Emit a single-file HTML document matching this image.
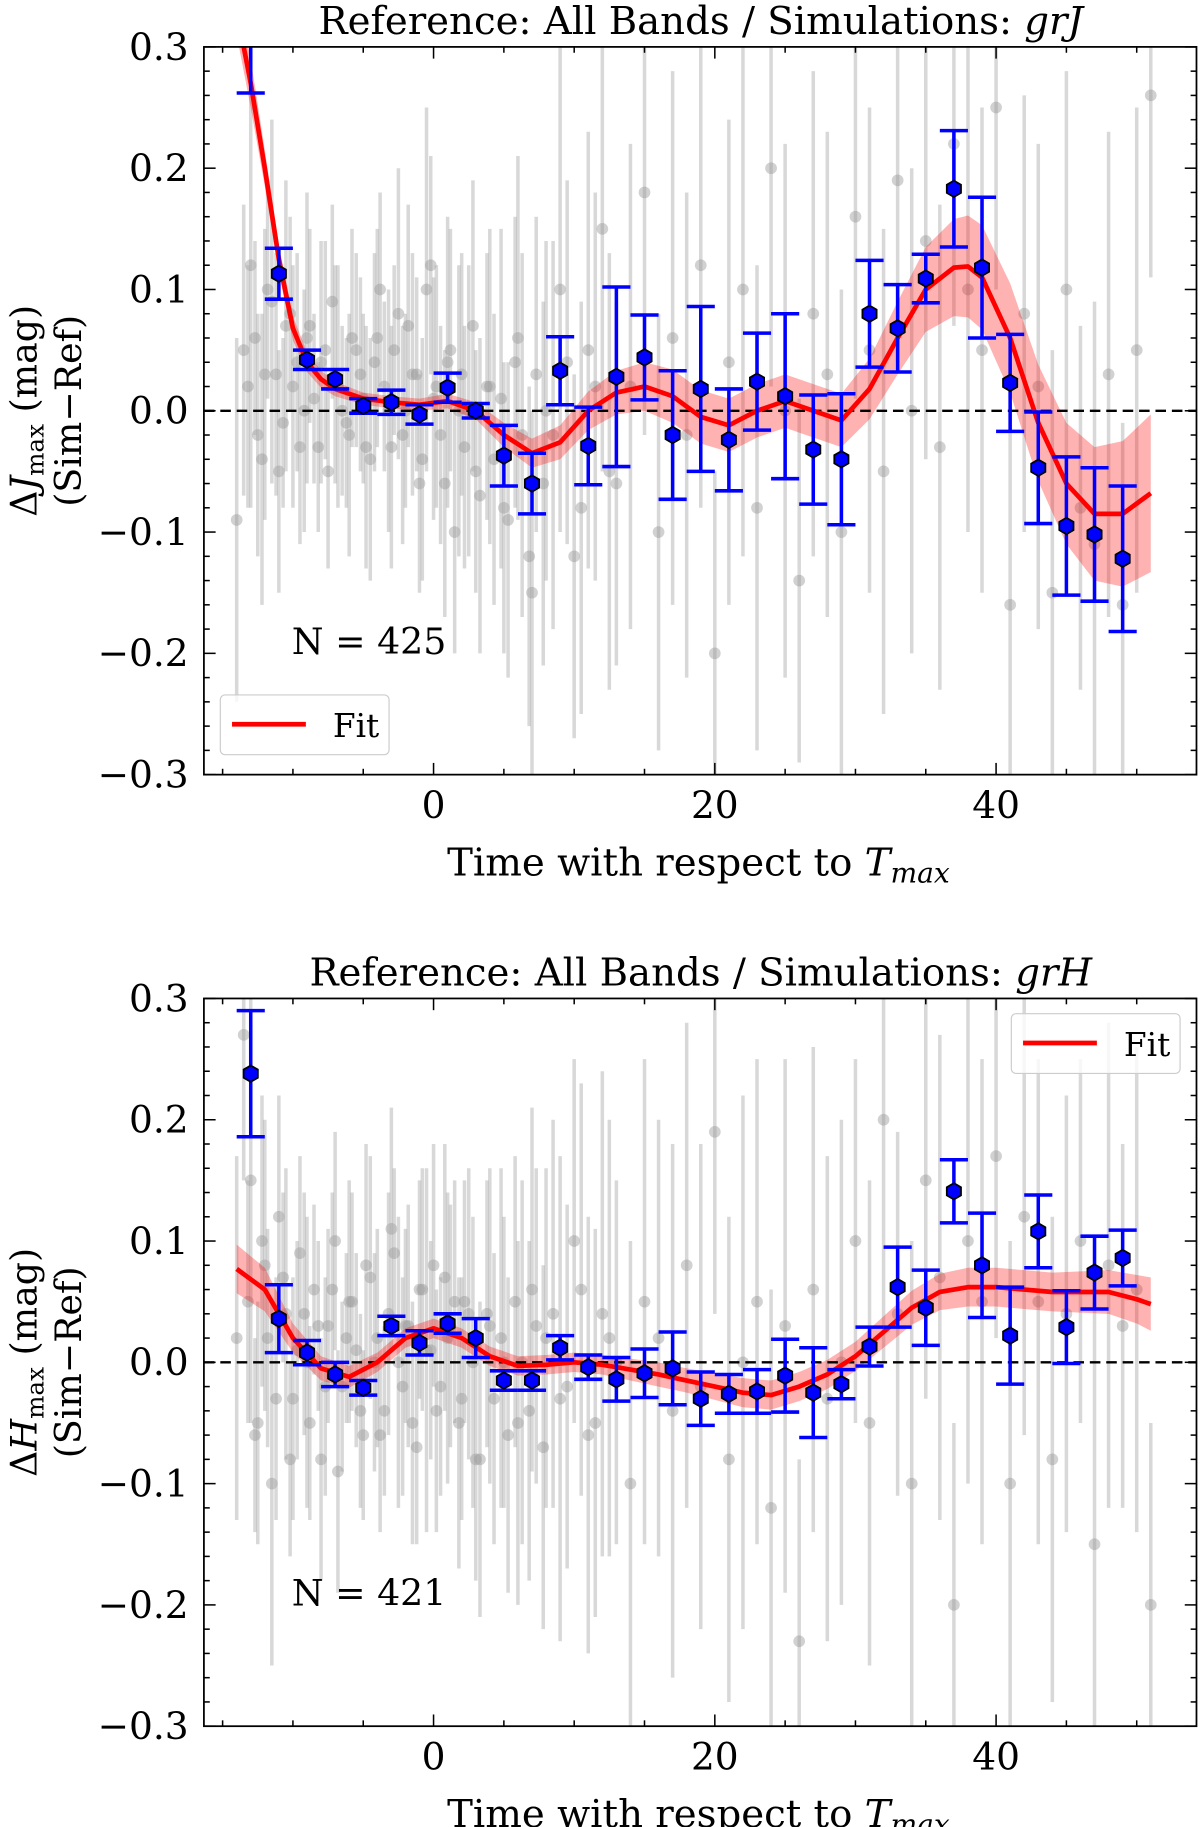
<!DOCTYPE html>
<html><head><meta charset="utf-8"><style>
html,body{margin:0;padding:0;background:#fff;}
svg{display:block;}
text{font-family:"DejaVu Serif","Liberation Serif",serif;fill:#000;}
</style></head><body>
<svg id="chart" width="1200" height="1827" viewBox="0 0 1024 1559" xmlns="http://www.w3.org/2000/svg"></svg>
<script>
// ---- data: top panel (J) ----
const topBinX=[-13,-11,-9,-7,-5,-3,-1,1,3,5,7,9,11,13,15,17,19,21,23,25,27,29,31,33,35,37,39,41,43,45,47,49];
const topBinY=[0.31,0.113,0.042,0.026,0.004,0.007,-0.003,0.019,0.000,-0.037,-0.060,0.033,-0.029,0.028,0.044,-0.020,0.018,-0.024,0.024,0.012,-0.032,-0.040,0.080,0.068,0.109,0.183,0.118,0.023,-0.047,-0.095,-0.102,-0.122];
const topBinErr=[0.048,0.021,0.008,0.008,0.006,0.01,0.008,0.012,0.006,0.025,0.025,0.028,0.032,0.074,0.035,0.053,0.068,0.042,0.04,0.068,0.045,0.054,0.044,0.036,0.02,0.048,0.058,0.04,0.046,0.057,0.055,0.06];
const topFitX=[-14,-13,-12,-11,-10,-9,-8,-7,-5,-3,-1,1,3,5,7,9,11,13,15,17,19,21,23,25,27,29,31,33,35,37,38,39,41,43,45,47,49,51];
const topFitY=[0.33,0.27,0.20,0.125,0.068,0.04,0.026,0.018,0.01,0.007,0.005,0.008,0.0,-0.02,-0.035,-0.026,0.0,0.015,0.02,0.012,-0.005,-0.012,0.0,0.008,0.0,-0.008,0.018,0.06,0.1,0.118,0.119,0.11,0.06,-0.01,-0.06,-0.085,-0.085,-0.068];
const topFitBand=[0.02,0.02,0.015,0.012,0.01,0.008,0.007,0.006,0.005,0.005,0.005,0.006,0.007,0.01,0.012,0.014,0.016,0.018,0.02,0.022,0.022,0.022,0.022,0.022,0.022,0.022,0.025,0.03,0.035,0.04,0.042,0.043,0.045,0.048,0.05,0.055,0.06,0.065];
const topPtsX=[-14,-13.5,-13,-12.5,-12,-11.5,-11,-10.5,-10,-9.5,-9,-8.5,-8,-7.5,-7,-6.5,-6,-5.5,-5,-4.5,-4,-3.5,-3,-2.5,-2,-1.5,-1,-0.5,0,0.5,1,1.5,2,2.5,3,4,5,6,7,8,9,10,11,12,13,14,15,16,17,18,19,20,21,22,23,24,25,26,27,28,29,30,31,32,33,34,35,36,37,38,39,40,41,42,43,44,45,46,47,48,49,50,51];
const topPtsY=[-0.09,0.05,0.12,-0.02,0.03,0.09,-0.05,0.07,0.02,-0.03,0.06,0.01,0.04,-0.05,0.03,0.0,-0.02,0.05,0.01,-0.04,0.06,0.02,-0.03,0.08,0.0,0.03,-0.06,0.1,0.01,-0.02,0.04,-0.1,0.03,0.0,-0.05,0.02,-0.08,0.06,-0.15,0.0,0.1,-0.12,0.05,0.15,-0.06,0.02,0.18,-0.1,0.06,-0.02,0.12,-0.2,0.04,0.1,-0.08,0.2,0.0,-0.14,0.08,0.03,-0.1,0.16,0.05,-0.05,0.19,0.0,0.14,-0.03,0.22,0.1,0.05,0.25,-0.16,0.08,0.02,-0.15,0.1,-0.08,-0.11,0.03,-0.16,0.05,0.26];
const topPtsErr=[0.15,0.12,0.2,0.1,0.12,0.15,0.1,0.12,0.1,0.08,0.12,0.07,0.1,0.08,0.09,0.07,0.1,0.08,0.07,0.1,0.09,0.07,0.1,0.12,0.08,0.1,0.09,0.15,0.1,0.09,0.12,0.1,0.1,0.12,0.1,0.13,0.12,0.15,0.15,0.14,0.2,0.15,0.18,0.2,0.15,0.2,0.2,0.18,0.22,0.2,0.2,0.15,0.2,0.22,0.2,0.18,0.22,0.15,0.2,0.2,0.2,0.15,0.2,0.2,0.15,0.2,0.18,0.2,0.15,0.2,0.2,0.15,0.2,0.18,0.2,0.2,0.18,0.15,0.2,0.2,0.15,0.2,0.15];
const topDenseX=[-13.2,-12.7,-12.2,-11.8,-11.2,-10.7,-10.2,-9.7,-9.2,-8.8,-8.2,-7.7,-7.2,-6.8,-6.2,-5.8,-5.2,-4.8,-4.2,-3.8,-3.2,-2.8,-2.2,-1.8,-1.2,-0.8,-0.2,0.2,0.8,1.2,1.8,2.2,2.8,3.3,3.8,4.3,4.8,5.3,5.8,6.3,6.8,7.3,7.8,8.5,9.5,10.5,11.5,12.5];
const topDenseY=[0.02,0.06,-0.04,0.1,0.03,-0.01,0.08,0.04,0.0,0.07,-0.03,0.05,0.09,0.02,-0.01,0.06,0.03,-0.03,0.04,0.1,0.0,0.05,-0.02,0.07,0.03,-0.04,0.12,0.02,-0.06,0.05,0.0,-0.03,0.07,-0.07,0.02,-0.04,0.01,-0.09,0.04,-0.02,-0.12,0.03,-0.06,-0.02,0.04,-0.08,0.02,-0.05];
const topDenseErr=[0.1,0.08,0.12,0.09,0.1,0.07,0.08,0.09,0.1,0.08,0.07,0.09,0.08,0.1,0.07,0.09,0.08,0.1,0.09,0.08,0.1,0.07,0.09,0.1,0.08,0.1,0.09,0.1,0.11,0.1,0.12,0.1,0.12,0.13,0.11,0.12,0.14,0.13,0.12,0.15,0.14,0.13,0.15,0.16,0.15,0.17,0.16,0.18];
// ---- data: bottom panel (H) ----
const botBinX=topBinX;
const botBinY=[0.238,0.036,0.008,-0.010,-0.021,0.030,0.016,0.032,0.020,-0.015,-0.015,0.012,-0.004,-0.014,-0.009,-0.005,-0.030,-0.026,-0.024,-0.011,-0.025,-0.018,0.013,0.062,0.045,0.141,0.080,0.022,0.108,0.029,0.074,0.086];
const botBinErr=[0.052,0.028,0.01,0.01,0.006,0.008,0.01,0.008,0.016,0.008,0.008,0.01,0.01,0.018,0.02,0.03,0.022,0.016,0.018,0.03,0.037,0.012,0.016,0.033,0.031,0.026,0.043,0.04,0.03,0.03,0.03,0.023];
const botFitX=[-14,-12,-10,-8,-6,-4,-2,0,2,4,6,8,10,12,14,16,18,20,22,24,26,28,30,32,34,36,38,40,42,44,46,48,50,51];
const botFitY=[0.077,0.06,0.02,-0.005,-0.012,0.0,0.02,0.028,0.02,0.005,-0.003,-0.002,0.0,-0.002,-0.006,-0.01,-0.015,-0.02,-0.025,-0.027,-0.02,-0.01,0.005,0.025,0.045,0.058,0.062,0.062,0.06,0.058,0.058,0.058,0.052,0.048];
const botFitBand=[0.02,0.018,0.012,0.01,0.009,0.008,0.008,0.008,0.008,0.008,0.008,0.008,0.008,0.008,0.009,0.01,0.01,0.011,0.012,0.012,0.012,0.012,0.012,0.013,0.014,0.015,0.016,0.016,0.016,0.016,0.017,0.018,0.02,0.022];
const botPtsX=topPtsX;
const botPtsY=[0.02,0.27,0.15,-0.05,0.08,-0.1,0.12,0.04,-0.03,0.09,0.0,0.06,-0.08,0.03,0.1,-0.02,0.05,0.01,-0.06,0.07,0.02,-0.04,0.11,0.0,0.03,-0.05,0.06,0.01,0.08,-0.02,0.02,0.05,-0.03,0.04,-0.08,0.03,0.0,-0.05,0.06,0.02,-0.03,0.1,-0.06,0.04,0.0,-0.1,0.05,0.02,-0.04,0.08,-0.02,0.19,-0.08,0.0,0.05,-0.12,0.03,-0.23,0.06,-0.03,0.0,0.1,-0.05,0.2,0.04,-0.1,0.15,0.07,-0.2,0.1,0.05,0.17,-0.1,0.12,0.05,-0.08,0.04,0.1,-0.15,0.08,0.03,0.06,-0.2];
const botPtsErr=topPtsErr;
const botDenseX=topDenseX;
const botDenseY=[0.05,-0.06,0.1,0.02,-0.03,0.07,-0.08,0.01,0.04,-0.05,0.03,-0.02,0.06,-0.09,0.02,0.05,-0.04,0.08,0.0,-0.06,0.04,0.09,-0.02,0.03,-0.07,0.06,0.01,-0.04,0.07,0.03,-0.05,0.05,0.0,-0.08,0.04,-0.03,0.02,-0.06,0.05,0.0,-0.04,0.03,-0.07,0.04,-0.02,0.06,-0.05,0.02];
const botDenseErr=topDenseErr;
const ticksX=[0,20,40];
const ticksY=[-0.3,-0.2,-0.1,0.0,0.1,0.2,0.3];
const tickLabY=["\u22120.3","\u22120.2","\u22120.1","0.0","0.1","0.2","0.3"];

const NS="http://www.w3.org/2000/svg";
const svg=document.getElementById('chart');
function mk(tag,attrs,parent){const e=document.createElementNS(NS,tag);for(const k in attrs)e.setAttribute(k,attrs[k]);(parent||svg).appendChild(e);return e;}

function panel(cfg){
  const L=174,R=1021,T=cfg.top,B=cfg.top+621;
  const xmin=-16.33,xmax=54.25;
  const sx=v=>L+(v-xmin)/(xmax-xmin)*(R-L);
  const sy=v=>B-(v+0.3)/0.6*(B-T);
  const g=mk('g',{});
  
  
  const cid='clip'+cfg.top;
  const cp=mk('clipPath',{id:cid},g);mk('rect',{x:L,y:T,width:R-L,height:B-T},cp);
  const plot=mk('g',{'clip-path':'url(#'+cid+')'},g);
  const sc=mk('g',{},plot);
  
  
  function pts(xs,ys,es){
    xs.forEach((x,i)=>{
      const y=ys[i],e=es[i];
      mk('line',{x1:sx(x),x2:sx(x),y1:sy(y-e),y2:sy(y+e),stroke:'#a8a8a8','stroke-width':3,'stroke-opacity':0.45},sc);
      mk('circle',{cx:sx(x),cy:sy(y),r:5,fill:'#999','fill-opacity':0.45},sc);
    });
  }
  pts(cfg.px,cfg.py,cfg.pe);
  pts(cfg.dx,cfg.dy,cfg.de);
  let up=cfg.fx.map((x,i)=>sx(x)+','+sy(cfg.fy[i]+cfg.fb[i]));
  let dn=cfg.fx.map((x,i)=>sx(x)+','+sy(cfg.fy[i]-cfg.fb[i])).reverse();
  const band=mk('polygon',{points:up.concat(dn).join(' '),fill:'#ff0000','fill-opacity':0.3},plot);
  
  
  mk('line',{x1:L,x2:R,y1:sy(0),y2:sy(0),stroke:'#000','stroke-width':2,'stroke-dasharray':'9,5'},plot);
  const fit=mk('polyline',{points:cfg.fx.map((x,i)=>sx(x)+','+sy(cfg.fy[i])).join(' '),fill:'none',stroke:'#ff0000','stroke-width':4,'stroke-linejoin':'round'},plot);
  
  
  const bg=mk('g',{},plot);
  
  
  cfg.bx.forEach((x,i)=>{
    const X=sx(x),y=cfg.by[i],e=cfg.be[i],Y=sy(y),y1=sy(y+e),y2=sy(y-e);
    mk('line',{x1:X,x2:X,y1:y1,y2:y2,stroke:'#0000ff','stroke-width':3},bg);
    mk('line',{x1:X-12,x2:X+12,y1:y1,y2:y1,stroke:'#0000ff','stroke-width':3},bg);
    mk('line',{x1:X-12,x2:X+12,y1:y2,y2:y2,stroke:'#0000ff','stroke-width':3},bg);
    const r=7,p=[];for(let k=0;k<6;k++){const a=Math.PI/2+k*Math.PI/3;p.push((X+r*Math.cos(a))+','+(Y+r*Math.sin(a)));}
    mk('polygon',{points:p.join(' '),fill:'#0000ff',stroke:'#000','stroke-width':1.5},bg);
  });
  mk('rect',{x:L,y:T,width:R-L,height:B-T,fill:'none',stroke:'#000','stroke-width':1.5},g);
  for(let v=-15;v<=50;v+=5){const X=sx(v),maj=ticksX.includes(v),len=maj?10:5;
    mk('line',{x1:X,x2:X,y1:B,y2:B-len,stroke:'#000','stroke-width':1.3},g);
    mk('line',{x1:X,x2:X,y1:T,y2:T+len,stroke:'#000','stroke-width':1.3},g);}
  ticksX.forEach(v=>{const t=mk('text',{x:sx(v),y:B+37,'text-anchor':'middle','font-size':32},g);t.textContent=v;});
  for(let k=-15;k<=15;k++){const v=k*0.02,Y=sy(v),maj=k%5===0,len=maj?10:5;
    mk('line',{x1:L,x2:L+len,y1:Y,y2:Y,stroke:'#000','stroke-width':1.3},g);
    mk('line',{x1:R,x2:R-len,y1:Y,y2:Y,stroke:'#000','stroke-width':1.3},g);}
  ticksY.forEach((v,i)=>{const t=mk('text',{x:L-13,y:sy(v)+11,'text-anchor':'end','font-size':32},g);t.textContent=tickLabY[i];});
  const ti=mk('text',{x:598,y:T-11,'text-anchor':'middle','font-size':33},g);
  
  ti.innerHTML='Reference: All Bands / Simulations: <tspan font-style="italic">'+cfg.sim+'</tspan>';
  const xl=mk('text',{x:596,y:B+86,'text-anchor':'middle','font-size':33},g);
  
  xl.innerHTML='Time with respect to <tspan font-style="italic">T</tspan><tspan font-style="italic" font-size="24" dy="6">max</tspan>';
  const yc=(T+B)/2;
  const yl=mk('text',{transform:'translate(31,'+yc+') rotate(-90)','text-anchor':'middle','font-size':31},g);
  
  yl.innerHTML='\u0394<tspan font-style="italic">'+cfg.band+'</tspan><tspan font-size="21" dy="6">max</tspan><tspan dy="-6"> (mag)</tspan>';
  const yl2=mk('text',{transform:'translate(69,'+yc+') rotate(-90)','text-anchor':'middle','font-size':31},g);
  yl2.textContent='(Sim\u2212Ref)';
  const n=mk('text',{x:249,y:T+cfg.nY,'font-size':31},g);
  
  n.textContent=cfg.N;
  const lg=mk('g',{},g);
  
  const lx=cfg.legX,ly=T+cfg.legY;
  mk('rect',{x:lx,y:ly,width:144,height:51,rx:4,fill:'#fff','fill-opacity':0.8,stroke:'#ccc','stroke-width':1},lg);
  mk('line',{x1:lx+10,x2:lx+73,y1:ly+25,y2:ly+25,stroke:'#ff0000','stroke-width':4},lg);
  const lt=mk('text',{x:lx+96,y:ly+36,'font-size':28},lg);lt.textContent='Fit';
}
panel({name:'top-panel-J',top:40,px:topPtsX,py:topPtsY,pe:topPtsErr,dx:topDenseX,dy:topDenseY,de:topDenseErr,fx:topFitX,fy:topFitY,fb:topFitBand,bx:topBinX,by:topBinY,be:topBinErr,sim:'grJ',band:'J',N:'N = 425',nY:518,legX:188,legY:553});
panel({name:'bottom-panel-H',top:852,px:botPtsX,py:botPtsY,pe:botPtsErr,dx:botDenseX,dy:botDenseY,de:botDenseErr,fx:botFitX,fy:botFitY,fb:botFitBand,bx:botBinX,by:botBinY,be:botBinErr,sim:'grH',band:'H',N:'N = 421',nY:518,legX:863,legY:13});
</script>
</body></html>
